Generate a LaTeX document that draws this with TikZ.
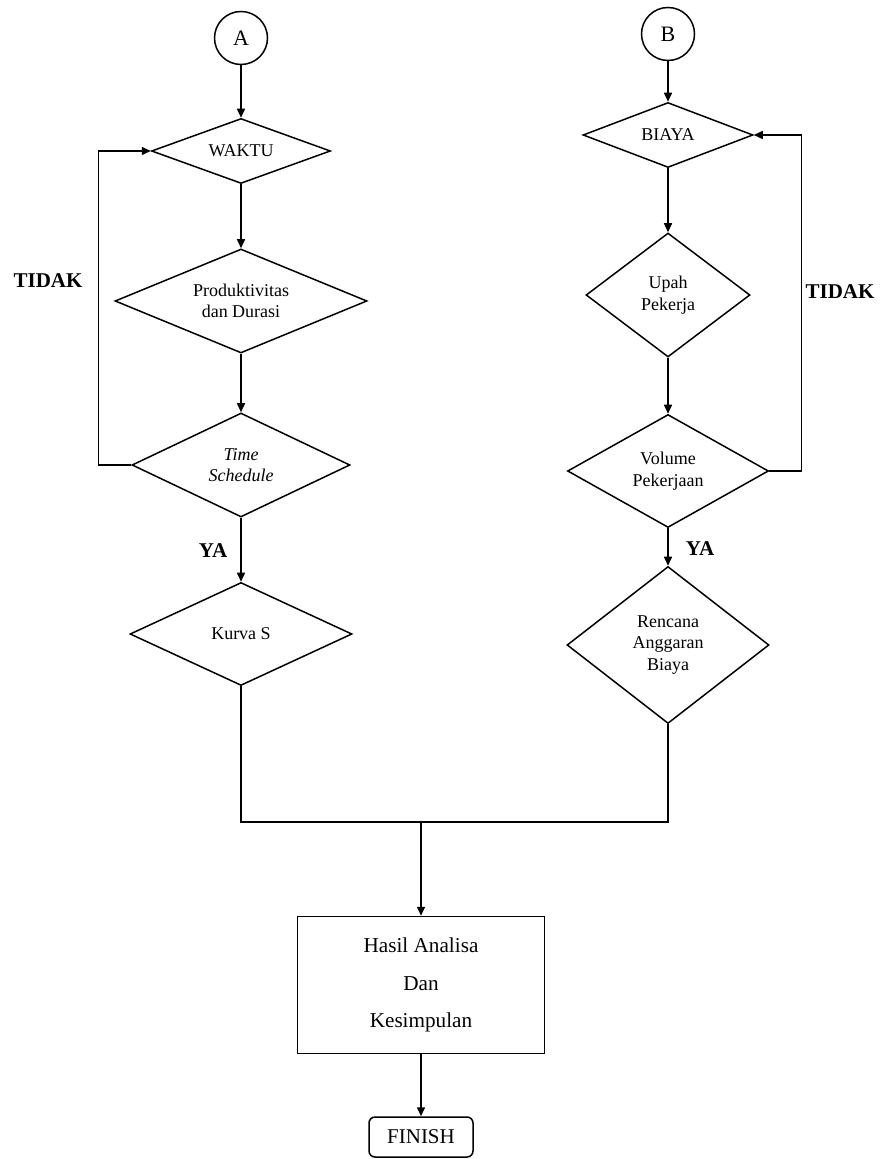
\documentclass[tikz,border=0pt]{standalone}
\usepackage{fontspec}
\setmainfont{Liberation Serif}
\usetikzlibrary{positioning,arrows.meta,shapes.geometric}

\begin{document}
\begin{tikzpicture}[x=0.5pt, y=-0.5pt,
    connector/.style={circle, draw, line width=0.75pt, minimum size=26.5pt,
      inner sep=0pt, font=\fontsize{11}{13}\selectfont},
    decision/.style={diamond, draw, line width=0.75pt, inner sep=0pt,
      align=center, font=\fontsize{9}{10.7}\selectfont},
    process/.style={rectangle, draw, line width=0.75pt, minimum width=123.5pt,
      minimum height=68.5pt, align=center, font=\fontsize{10.6}{18.7}\selectfont},
    terminal/.style={rectangle, rounded corners=3pt, draw, line width=0.75pt,
      minimum width=52pt, minimum height=20pt, font=\fontsize{10.5}{12}\selectfont},
    answer/.style={font=\fontsize{10.5}{12}\selectfont\bfseries, inner sep=0pt},
    arr/.style={-{Triangle[length=4.5pt, width=4pt]}, line width=0.75pt},
    line/.style={line width=0.75pt},
  ]
  \useasboundingbox (0,0) rectangle (889,1159);

  % left branch
  \node[connector] (conA) at (241,38) {A};
  \node[decision, minimum width=89.5pt, minimum height=32.5pt, aspect=2.75]
    (waktu) at (241,151) {WAKTU};
  \node[decision, minimum width=126pt, minimum height=52pt, aspect=2.42]
    (produk) at (241,301) {Produktivitas\\dan Durasi};
  \node[decision, minimum width=109pt, minimum height=52pt, aspect=2.1]
    (jadwal) at (241,465) {\itshape Time\\\itshape Schedule};
  \node[decision, minimum width=111pt, minimum height=51.5pt, aspect=2.16]
    (kurva) at (241,634) {Kurva S};

  % right branch
  \node[connector] (conB) at (668,34) {B};
  \node[decision, minimum width=85pt, minimum height=32.5pt, aspect=2.6]
    (biaya) at (668,135) {BIAYA};
  \node[decision, minimum width=82pt, minimum height=62pt, aspect=1.32]
    (upah) at (668,295) {Upah\\Pekerja};
  \node[decision, minimum width=100.5pt, minimum height=56.5pt, aspect=1.78]
    (volume) at (668,471) {Volume\\Pekerjaan};
  \node[decision, minimum width=101pt, minimum height=78.5pt, aspect=1.29]
    (rab) at (668,645) {Rencana\\Anggaran\\Biaya};

  % bottom
  \coordinate (join) at (421,822);
  \node[process] (hasil) at (421,985) {Hasil Analisa\\Dan\\Kesimpulan};
  \node[terminal] (finish) at (421,1137) {FINISH};

  % labels
  \node[answer] (tidakL) at (48,281) {TIDAK};
  \node[answer] (tidakR) at (840,292) {TIDAK};
  \node[answer] (yaL) at (213,551) {YA};
  \node[answer] (yaR) at (700,549) {YA};

  % connectors
  \draw[arr] (conA) -- (waktu.north);
  \draw[arr] (waktu) -- (produk);
  \draw[arr] (produk) -- (jadwal);
  \draw[arr] (jadwal.west) -- ++(-33,0) |- (waktu.west);
  \draw[arr] (jadwal) -- (kurva);

  \draw[arr] (conB) -- (biaya.north);
  \draw[arr] (biaya) -- (upah);
  \draw[arr] (upah) -- (volume);
  \draw[arr] (volume.east) -- ++(32,0) |- (biaya.east);
  \draw[arr] (volume) -- (rab);

  \draw[line] (kurva.south) |- (rab.south |- join) -- (rab.south);
  \draw[arr] (join) -- (hasil);
  \draw[arr] (hasil) -- (finish);
\end{tikzpicture}
\end{document}
